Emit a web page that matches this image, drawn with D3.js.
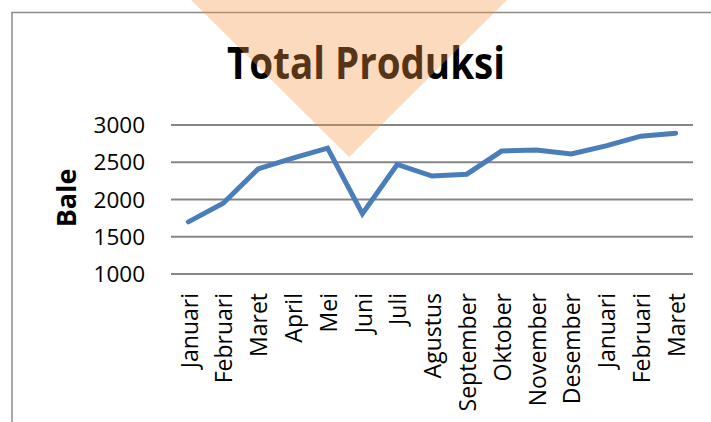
<!DOCTYPE html>
<html>
<head>
<meta charset="utf-8">
<script src="https://cdn.jsdelivr.net/npm/d3@7"></script>
<style>
  html, body { margin: 0; padding: 0; background: #fff; }
  svg { display: block; font-family: "Open Sans", sans-serif; }
</style>
</head>
<body>
<svg width="711" height="422"></svg>
<script>
const months = ["Januari", "Februari", "Maret", "April", "Mei", "Juni", "Juli",
                "Agustus", "September", "Oktober", "November", "Desember",
                "Januari", "Februari", "Maret"];
const produksi = [1700, 1950, 2410, 2555, 2690, 1810, 2470, 2315, 2340,
                  2650, 2665, 2610, 2720, 2850, 2890];
const yTicks = [1000, 1500, 2000, 2500, 3000];

const chart = d3.select("svg");
const CHART_W = 711, CHART_H = 422;

chart.append("rect")
     .attr("width", CHART_W)
     .attr("height", CHART_H)
     .attr("fill", "#fff");

// chart area frame (only top and left show)
chart.append("path")
     .attr("d", "M12,422V12.5H711")
     .attr("fill", "none")
     .attr("stroke", "#8c8c8c")
     .attr("stroke-width", 1.5);

const xScale = d3.scalePoint()
                 .domain(d3.range(months.length))
                 .range([171, 693])
                 .padding(0.5);

const yScale = d3.scaleLinear()
                 .domain([1000, 3000])
                 .range([274, 125]);

// gridlines
chart.append("g")
     .selectAll("line")
     .data(yTicks)
     .enter()
     .append("line")
     .attr("x1", 171)
     .attr("x2", 693)
     .attr("y1", (d) => yScale(d))
     .attr("y2", (d) => yScale(d))
     .attr("stroke", "#868686")
     .attr("stroke-width", 2);

// y tick labels
chart.append("g")
     .selectAll("text")
     .data(yTicks)
     .enter()
     .append("text")
     .attr("x", 145)
     .attr("y", (d) => yScale(d))
     .attr("dy", "0.36em")
     .attr("text-anchor", "end")
     .attr("font-size", 22.5)
     .attr("fill", "#000")
     .text((d) => d);

// month labels
chart.append("g")
     .selectAll("text")
     .data(months)
     .enter()
     .append("text")
     .attr("transform", (d, i) => `translate(${xScale(i)},293) rotate(-90)`)
     .attr("dy", "0.4em")
     .attr("text-anchor", "end")
     .attr("font-size", 23)
     .attr("fill", "#000")
     .text((d) => d);

// the series line
const genLine = d3.line()
                  .x((d, i) => xScale(i))
                  .y((d) => yScale(d));

chart.append("path")
     .datum(produksi)
     .attr("d", genLine)
     .attr("fill", "none")
     .attr("stroke", "#4a7ebb")
     .attr("stroke-width", 5)
     .attr("stroke-linecap", "round");

// titles
chart.append("text")
     .attr("x", 366)
     .attr("y", 79)
     .attr("text-anchor", "middle")
     .attr("font-size", 44)
     .attr("font-weight", "bold")
     .attr("textLength", 278)
     .attr("lengthAdjust", "spacingAndGlyphs")
     .text("Total Produksi");

chart.append("text")
     .attr("transform", "translate(76,198) rotate(-90)")
     .attr("text-anchor", "middle")
     .attr("font-size", 27)
     .attr("font-weight", "bold")
     .text("Bale");

// translucent orange triangle sitting over the chart
chart.append("path")
     .attr("d", "M191,0L507,0L349,157Z")
     .attr("fill", "#F79646")
     .attr("opacity", 0.35);
</script>
</body>
</html>
